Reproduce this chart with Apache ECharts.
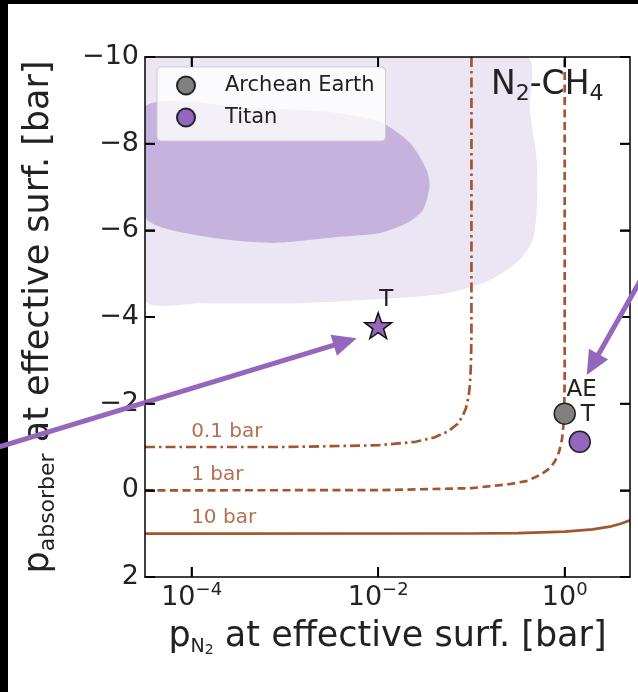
<!DOCTYPE html>
<html><head><meta charset="utf-8">
<script src="https://cdn.jsdelivr.net/npm/echarts@6/dist/echarts.min.js"></script>
<style>html,body{margin:0;padding:0;background:#fff;}#c{width:638px;height:692px;}</style>
</head><body><div id="c"></div>
<script>
// ---------- data (x in log10 p_N2 [bar], y = log10 p_absorber [bar]) ----------
const xTickExponents = [-4, -2, 0];
const yTickValues = [-10, -8, -6, -4, -2, 0, 2];
const xRange = [-4.5, 0.7];

const archeanEarthPN2 = [1.0];
const archeanEarthPabs = [-1.77];
const titanPN2 = [1.45];
const titanPabs = [-1.12];
const titanEffPN2 = [0.01];
const titanEffPabs = [-3.8];

// iso-total-pressure curves
const levelNames = ['0.1 bar', '1 bar', '10 bar'];
const levelLabelX = [-4, -4, -4];
const levelLabelY = [-1, 0, 1];
const c01X = [-4.5, -3, -2, -1.6, -1.4, -1.25, -1.15, -1.1, -1.06, -1.03, -1.015, -1.005, -1.0, -1.0];
const c01Y = [-1.0, -1.0, -1.04, -1.12, -1.22, -1.36, -1.53, -1.69, -1.89, -2.17, -2.47, -2.94, -3.6, -10];
const c1X = [-4.5, -2, -1, -0.6, -0.4, -0.25, -0.15, -0.1, -0.06, -0.03, -0.015, -0.005, 0, 0];
const c1Y = [0, -0.004, -0.05, -0.14, -0.22, -0.37, -0.53, -0.69, -0.89, -1.17, -1.47, -1.94, -2.6, -10];
const c10X = [-4.5, -1, -0.5, 0, 0.3, 0.5, 0.6, 0.7];
const c10Y = [1.0, 0.996, 0.986, 0.954, 0.90, 0.83, 0.77, 0.69];

// shaded regions
const outerX = [-4.5, -0.41, -0.375, -0.30, -0.30, -0.343, -0.483, -0.804, -1.265, -1.80, -2.84, -3.91, -4.5];
const outerY = [-10, -10, -8.78, -7.62, -6.47, -5.78, -5.32, -4.85, -4.55, -4.44, -4.32, -4.32, -4.39];
const innerX = [-4.5, -3.38, -2.52, -1.98, -1.66, -1.48, -1.45, -1.52, -1.69, -1.98, -2.41, -3.13, -3.84, -4.5];
const innerY = [-8.85, -8.82, -8.73, -8.5, -8.02, -7.39, -7.0, -6.47, -6.17, -5.94, -5.85, -5.71, -5.85, -6.31];

// annotation arrows (tail -> tip)
const arrowTailX = [-6.1, 0.91];
const arrowTailY = [-0.98, -5.22];
const arrowTipX = [-2.23, 0.236];
const arrowTipY = [-3.51, -2.66];

// ---------- chart ----------
const FONT = 'DejaVu Sans';
const BROWN = '#a3552e';
const PURPLE = '#9467bd';
const log10 = Math.log10;
const minus = v => (v < 0 ? '\u2212' + (-v) : String(v));
const yMin = yTickValues[0], yMax = yTickValues[yTickValues.length - 1];

function polygonSeries(name, xs, ys, color, z) {
  return {
    type: 'custom', name, z, clip: true, silent: true,
    data: xs.map((x, i) => [x, ys[i]]),
    renderItem: function (params, api) {
      if (params.dataIndex !== 0) return null;
      const pts = xs.map((x, i) => api.coord([x, ys[i]]));
      return { type: 'polygon', shape: { points: pts, smooth: 0.25 }, style: { fill: color } };
    }
  };
}
function lineSeries(name, xs, ys, type) {
  return {
    type: 'line', name, z: 3, showSymbol: false, symbol: 'none', silent: true,
    data: xs.map((x, i) => [x, ys[i]]),
    lineStyle: { color: BROWN, width: 2.7, type: type }
  };
}
const star = 'path://M0,-10 L2.35,-3.24 L9.51,-3.09 L3.8,1.24 L5.88,8.09 L0,4 L-5.88,8.09 L-3.8,1.24 L-9.51,-3.09 L-2.35,-3.24 Z';
const ptLabel = (txt, dx, dist) => ({
  show: true, position: 'top', distance: dist, offset: [dx, 0], formatter: txt,
  fontFamily: FONT, fontSize: 23, color: '#222'
});
function axisBase() {
  return {
    z: 10,
    axisLine: { show: true, onZero: false, lineStyle: { color: '#000', width: 1.5 } },
    axisTick: { show: true, inside: true, length: 10, lineStyle: { color: '#000', width: 1.6 } },
    splitLine: { show: false }
  };
}

// inward tick marks on all four sides, placed through the axes' scales
function tickElements(api) {
  const T = 10, els = [];
  const mk = (x1, y1, x2, y2) => ({ type: 'line', shape: { x1, y1, x2, y2 }, style: { stroke: '#000', lineWidth: 1.8 } });
  xTickExponents.forEach(v => {
    const b = api.coord([v, yMax]), t = api.coord([v, yMin]);
    els.push(mk(b[0], b[1], b[0], b[1] - T));
    els.push(mk(t[0], t[1], t[0], t[1] + T));
  });
  yTickValues.forEach(v => {
    const l = api.coord([xRange[0], v]), r = api.coord([xRange[1], v]);
    els.push(mk(l[0], l[1], l[0] + T, l[1]));
    els.push(mk(r[0], r[1], r[0] - T, r[1]));
  });
  return els;
}

const option = {
  animation: false,
  backgroundColor: '#fff',
  textStyle: { fontFamily: FONT },
  grid: { left: 145, top: 57, width: 485, height: 520 },
  title: {
    left: 491, top: 65, padding: 0,
    text: '{n|N}{s|2}{n|-CH}{s|4}',
    textStyle: {
      fontWeight: 'normal',
      rich: {
        n: { fontFamily: FONT, fontSize: 33, fontWeight: 'normal', lineHeight: 40, color: '#222' },
        s: { fontFamily: FONT, fontSize: 22, fontWeight: 'normal', lineHeight: 21, verticalAlign: 'bottom', color: '#222' }
      }
    }
  },
  legend: {
    data: ['Archean Earth', 'Titan'],
    left: 157, top: 67, orient: 'vertical',
    padding: [8, 11, 13, 19], itemGap: 11, itemWidth: 18, itemHeight: 18,
    backgroundColor: 'rgba(255,255,255,0.8)', borderColor: '#cccccc', borderWidth: 1, borderRadius: 4,
    textStyle: { fontFamily: FONT, fontSize: 21, color: '#222', padding: [0, 0, 0, 25] }
  },
  xAxis: [
    Object.assign(axisBase(), {
      type: 'value', position: 'bottom', min: xRange[0], max: xRange[1],
      axisTick: { show: true, inside: true, length: 10, customValues: xTickExponents, lineStyle: { color: '#000', width: 1.6 } },
      axisLabel: {
        customValues: xTickExponents, margin: 4,
        formatter: v => '{b|10}{s|' + minus(v) + '}',
        rich: {
          b: { fontFamily: FONT, fontSize: 27, lineHeight: 34, color: '#222' },
          s: { fontFamily: FONT, fontSize: 18, lineHeight: 6, verticalAlign: 'top', color: '#222' }
        }
      },
      name: '{p|p}{n|N}{t|2}{p| at effective surf. [bar]}',
      nameLocation: 'middle', nameGap: 40,
      nameTextStyle: {
        rich: {
          p: { fontFamily: FONT, fontSize: 35, lineHeight: 40, color: '#222' },
          n: { fontFamily: FONT, fontSize: 19, lineHeight: 19, verticalAlign: 'bottom', color: '#222' },
          t: { fontFamily: FONT, fontSize: 14, lineHeight: 8, verticalAlign: 'bottom', color: '#222' }
        }
      }
    }),
    Object.assign(axisBase(), {
      type: 'value', position: 'top', min: xRange[0], max: xRange[1],
      axisTick: { show: true, inside: true, length: 10, customValues: xTickExponents, lineStyle: { color: '#000', width: 1.6 } },
      axisLabel: { show: false, customValues: xTickExponents }
    })
  ],
  yAxis: [
    Object.assign(axisBase(), {
      type: 'value', position: 'left', inverse: true, min: yMin, max: yMax, interval: 2,
      axisLabel: { margin: 6, fontFamily: FONT, fontSize: 27, color: '#222', formatter: v => minus(v) },
      name: '{p|p}{s|absorber}{p| at effective surf. [bar]}',
      nameLocation: 'middle', nameGap: 86,
      nameTextStyle: {
        rich: {
          p: { fontFamily: FONT, fontSize: 35, lineHeight: 40, color: '#222' },
          s: { fontFamily: FONT, fontSize: 22, lineHeight: 19, verticalAlign: 'bottom', color: '#222' }
        }
      }
    }),
    Object.assign(axisBase(), {
      type: 'value', position: 'right', inverse: true, min: yMin, max: yMax, interval: 2,
      axisLabel: { show: false }
    })
  ],
  graphic: [
    { type: 'rect', z: 0, shape: { x: 0, y: 0, width: 638, height: 4 }, style: { fill: '#000' } },
    { type: 'rect', z: 0, shape: { x: 0, y: 0, width: 8, height: 692 }, style: { fill: '#000' } }
  ],
  series: [
    polygonSeries('outer region', outerX, outerY, '#ebe5f4', 1),
    polygonSeries('inner region', innerX, innerY, '#c5b3dd', 2),
    lineSeries('0.1 bar', c01X, c01Y, [10, 4, 2.5, 4]),
    lineSeries('1 bar', c1X, c1Y, [8, 4.5]),
    lineSeries('10 bar', c10X, c10Y, 'solid'),
    {
      type: 'scatter', name: 'level labels', z: 4, silent: true,
      symbolSize: 1, itemStyle: { color: 'rgba(0,0,0,0)', opacity: 1 },
      data: levelNames.map((n, i) => ({ name: n, value: [levelLabelX[i], levelLabelY[i]] })),
      label: {
        show: true, position: [0, -15], align: 'left', verticalAlign: 'middle',
        formatter: p => p.name, fontFamily: FONT, fontSize: 20, color: '#b3714f'
      }
    },
    {
      type: 'scatter', name: 'Archean Earth', z: 6, symbol: 'circle', symbolSize: 21,
      itemStyle: { color: '#808080', borderColor: '#222', borderWidth: 1.5, opacity: 1 },
      data: archeanEarthPN2.map((x, i) => [log10(x), archeanEarthPabs[i]]),
      label: ptLabel('AE', 17, 1)
    },
    {
      type: 'scatter', name: 'Titan', z: 6, symbol: 'circle', symbolSize: 21,
      itemStyle: { color: PURPLE, borderColor: '#222', borderWidth: 1.5, opacity: 1 },
      data: titanPN2.map((x, i) => [log10(x), titanPabs[i]]),
      label: ptLabel('T', 8, 4)
    },
    {
      type: 'scatter', name: 'Titan (effective surface)', z: 6, symbol: star, symbolKeepAspect: true, symbolSize: 27,
      itemStyle: { color: PURPLE, borderColor: '#111', borderWidth: 1.5, opacity: 1 },
      data: titanEffPN2.map((x, i) => [log10(x), titanEffPabs[i]]),
      label: ptLabel('T', 8, 1)
    },
    {
      type: 'custom', name: 'arrows and ticks', z: 20, clip: false, silent: true,
      data: arrowTipX.map((x, i) => [x, arrowTipY[i]]),
      renderItem: function (params, api) {
        const i = params.dataIndex;
        const p0 = api.coord([arrowTailX[i], arrowTailY[i]]);
        const p1 = api.coord([arrowTipX[i], arrowTipY[i]]);
        const dx = p1[0] - p0[0], dy = p1[1] - p0[1];
        const L = Math.hypot(dx, dy), ux = dx / L, uy = dy / L;
        const hl = 24, hw = 11;
        const bx = p1[0] - ux * hl, by = p1[1] - uy * hl;
        const children = [
          { type: 'line', shape: { x1: p0[0], y1: p0[1], x2: bx + ux * 2, y2: by + uy * 2 }, style: { stroke: PURPLE, lineWidth: 5 } },
          { type: 'polygon', shape: { points: [[p1[0], p1[1]], [bx - uy * hw, by + ux * hw], [bx + uy * hw, by - ux * hw]] }, style: { fill: PURPLE } }
        ];
        if (i === 0) tickElements(api).forEach(e => children.push(e));
        return { type: 'group', children };
      }
    }
  ]
};
const chart = echarts.init(document.getElementById('c'), null, { renderer: 'canvas' });
chart.setOption(option);
</script></body></html>
